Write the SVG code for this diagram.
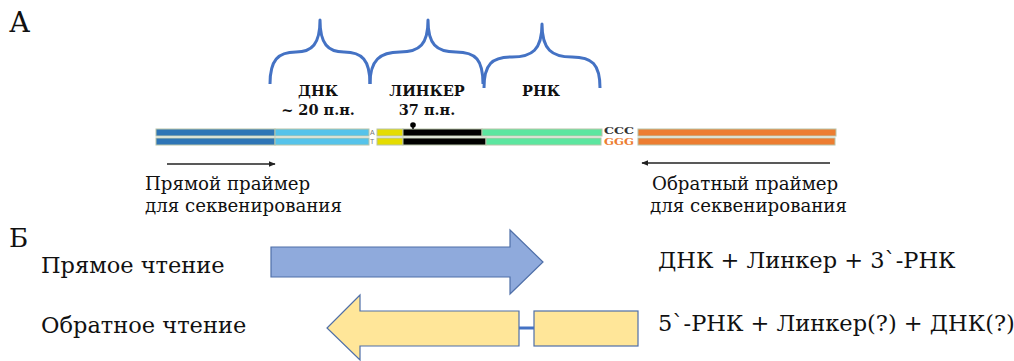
<svg xmlns="http://www.w3.org/2000/svg" width="1014" height="361" viewBox="0 0 1014 361">
  <style>
    .serif { font-family: "DejaVu Serif", "Liberation Serif", serif; fill: #111; }
    .panel { font-size: 28px; }
    .lbl { font-size: 18.2px; }
    .big { font-size: 22.5px; }
    .seg { font-family: "DejaVu Serif", "Liberation Serif", serif; font-weight: bold; font-size: 14.5px; fill: #111; text-anchor: middle; }
    .brace { fill: none; stroke: #4472c4; stroke-width: 3; stroke-linejoin: round; }
    .strand { stroke: #b8c4a8; stroke-width: 1; }
    .primer { stroke: #222; stroke-width: 1.4; fill: none; }
  </style>
  <defs>
    <marker id="head" viewBox="0 0 10 10" refX="9" refY="5" markerWidth="7" markerHeight="7" markerUnits="userSpaceOnUse" orient="auto">
      <path d="M0,1 L10,5 L0,9 Z" fill="#222"/>
    </marker>
  </defs>
  <rect width="1014" height="361" fill="#ffffff"/>

  <!-- panel letters -->
  <text class="serif panel" x="9" y="32">А</text>
  <text class="serif panel" x="9" y="247" style="font-size:26px">Б</text>

  <!-- curly braces over the construct -->
  <g id="brace-dna">
    <path class="brace" d="M270,84 C270,60 278,52 296,52 C312,52 320,44 320,20 C320,44 328,52 344,52 C362,52 370,60 370,84"/>
    <text class="seg" x="318" y="96">ДНК</text>
    <text class="seg" x="318" y="115">~ 20 п.н.</text>
  </g>
  <g id="brace-linker">
    <path class="brace" d="M370,84 C370,60 380,52 400,52 C420,52 428,44 428,20 C428,44 436,52 456,52 C476,52 483,60 483,84"/>
    <text class="seg" x="427" y="96">ЛИНКЕР</text>
    <text class="seg" x="427" y="115">37 п.н.</text>
  </g>
  <g id="brace-rna">
    <path class="brace" d="M484,88 C484,64 492,57 512,57 C532,57 542,50 542,24 C542,50 552,57 572,57 C592,57 600,64 600,88"/>
    <text class="seg" x="541" y="96">РНК</text>
  </g>

  <!-- double-stranded construct -->
  <g id="construct">
    <!-- top strand -->
    <rect class="strand" x="156" y="129" width="119" height="7" fill="#2e75b6"/>
    <rect class="strand" x="275" y="129" width="94" height="7" fill="#56c3ea"/>
    <rect class="strand" x="377" y="129" width="26" height="7" fill="#e5dc00"/>
    <rect class="strand" x="403" y="129" width="79" height="7" fill="#000"/>
    <rect class="strand" x="482" y="129" width="120" height="7" fill="#5ce6a0"/>
    <!-- bottom strand -->
    <rect class="strand" x="156" y="138" width="119" height="7" fill="#2e75b6"/>
    <rect class="strand" x="275" y="138" width="94" height="7" fill="#56c3ea"/>
    <rect class="strand" x="377" y="138" width="26" height="7" fill="#e5dc00"/>
    <rect class="strand" x="403" y="138" width="83" height="7" fill="#000"/>
    <rect class="strand" x="486" y="138" width="115" height="7" fill="#5ce6a0"/>
    <!-- terminal bases -->
    <text x="370" y="135" font-family="Liberation Sans, sans-serif" font-size="7" fill="#777">A</text>
    <text x="370" y="144" font-family="Liberation Sans, sans-serif" font-size="7" fill="#777">T</text>
    <!-- biotin mark on the linker -->
    <line x1="413" y1="126" x2="413" y2="129" stroke="#000" stroke-width="1.5"/>
    <circle cx="413" cy="125" r="2.8" fill="#000"/>
    <!-- 3' tail -->
    <text x="604" y="134" font-family="DejaVu Serif, serif" font-weight="bold" font-size="10" fill="#333" textLength="30" lengthAdjust="spacingAndGlyphs">CCC</text>
    <text x="604" y="145" font-family="DejaVu Serif, serif" font-weight="bold" font-size="10" fill="#ed7d31" textLength="30" lengthAdjust="spacingAndGlyphs">GGG</text>
    <rect class="strand" x="638" y="129" width="198" height="7" fill="#ed7d31" stroke="#e0a070"/>
    <rect class="strand" x="638" y="138" width="197" height="7" fill="#ed7d31" stroke="#e0a070"/>
  </g>

  <!-- primer labels -->
  <g id="primer-fwd">
    <text class="serif lbl" x="145" y="190">Прямой праймер</text>
    <text class="serif lbl" x="145" y="212">для секвенирования</text>
  </g>
  <g id="primer-rev">
    <text class="serif lbl" x="652" y="190">Обратный праймер</text>
    <text class="serif lbl" x="650" y="212">для секвенирования</text>
  </g>

  <!-- read labels -->
  <g id="read-fwd-label">
    <text class="serif big" x="41" y="273">Прямое чтение</text>
  </g>
  <g id="read-rev-label">
    <text class="serif big" x="41" y="333">Обратное чтение</text>
  </g>

  <!-- forward read arrow -->
  <g id="read-fwd">
    <path d="M271,247 H510 V230 L543,262 L510,294 V277 H271 Z" fill="#8faadc" stroke="#4f6fa8" stroke-width="1.2"/>
  </g>
  <!-- reverse read: arrow plus separate block -->
  <g id="read-rev">
    <path d="M519,311 H360 V295 L327,328 L360,360 V346 H519 Z" fill="#ffe699" stroke="#4f6fa8" stroke-width="1.2"/>
  </g>
  <g id="read-rev-block">
    <rect x="534" y="311" width="104" height="35" fill="#ffe699" stroke="#4f6fa8" stroke-width="1.2"/>
  </g>

  <!-- read contents -->
  <g id="read-fwd-content">
    <text class="serif big" x="658" y="268">ДНК + Линкер + 3`-РНК</text>
  </g>
  <g id="read-rev-content">
    <text class="serif big" x="658" y="331">5`-РНК + Линкер(?) + ДНК(?)</text>
  </g>

  <!-- connectors -->
  <g id="connectors">
    <line class="primer" x1="167" y1="164" x2="275" y2="164" marker-end="url(#head)"/>
    <line class="primer" x1="830" y1="163" x2="642" y2="163" marker-end="url(#head)"/>
    <line x1="519" y1="328" x2="534" y2="328" stroke="#4472c4" stroke-width="3"/>
  </g>
</svg>
